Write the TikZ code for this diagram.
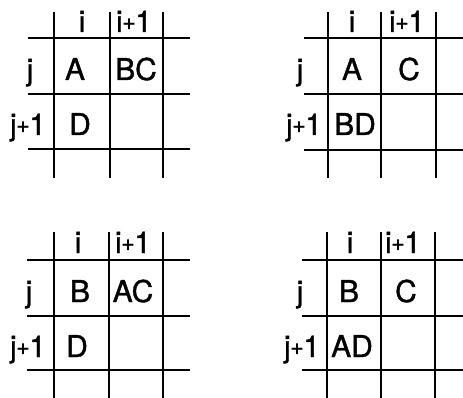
\documentclass[tikz,border=0pt]{standalone}
\usepackage{fontspec}
\setmainfont{TeX Gyre Heros}
\newfontfamily\lblfont{TeX Gyre Heros}[FakeBold=1.2]
\usepackage{tikz}
\newcommand{\pls}{\kern-0.5pt\raisebox{2.5pt}{\fontsize{23}{23}\selectfont+}\kern-0.5pt}

\begin{document}
\begin{tikzpicture}[
  x=1pt, y=-1pt,
  rule/.style={line width=1.5pt, line cap=butt},
  lbl/.style={anchor=base, inner sep=0pt, font=\lblfont\fontsize{30}{32}\selectfont},
]
\useasboundingbox (0,0) rectangle (463,398);

% top left
\draw[rule] (54,12) -- (54,178) (110,12) -- (110,178) (163,12) -- (163,178)
  (28,38) -- (190,38) (28,94) -- (190,94) (28,149) -- (190,149);
\node[lbl] (ai) at (82,32) {i};
\node[lbl] (aii) at (134,32) {i\pls1};
\node[lbl] (aj) at (30,80) {j};
\node[lbl] (ajj) at (28,135) {j\pls1};
\node[lbl] (a11) at (75,80) {A};
\node[lbl] (a12) at (136,80) {BC};
\node[lbl] (a21) at (80,135) {D};

% top right
\draw[rule] (328,12) -- (328,178) (381,12) -- (381,178) (436,12) -- (436,178)
  (304,38) -- (463,38) (304,94) -- (463,94) (304,150) -- (463,150);
\node[lbl] (bi) at (352,32) {i};
\node[lbl] (bii) at (407,32) {i\pls1};
\node[lbl] (bj) at (300,80) {j};
\node[lbl] (bjj) at (304,135) {j\pls1};
\node[lbl] (b11) at (352,80) {A};
\node[lbl] (b12) at (409,80) {C};
\node[lbl] (b21) at (355,135) {BD};

% bottom left
\draw[rule] (54,232) -- (54,398) (109,232) -- (109,398) (163,232) -- (163,398)
  (27,260) -- (190,260) (27,316) -- (190,316) (27,370) -- (190,370);
\node[lbl] (ci) at (78,253) {i};
\node[lbl] (cii) at (133,253) {i\pls1};
\node[lbl] (cj) at (29,302) {j};
\node[lbl] (cjj) at (28,357) {j\pls1};
\node[lbl] (c11) at (80,302) {B};
\node[lbl] (c12) at (133,302) {AC};
\node[lbl] (c21) at (77,357) {D};

% bottom right
\draw[rule] (327,232) -- (327,398) (381,232) -- (381,398) (435,232) -- (435,398)
  (302,260) -- (463,260) (302,316) -- (463,316) (302,370) -- (463,370);
\node[lbl] (di) at (350,253) {i};
\node[lbl] (dii) at (403,253) {i\pls1};
\node[lbl] (dj) at (300,302) {j};
\node[lbl] (djj) at (302,357) {j\pls1};
\node[lbl] (d11) at (349,302) {B};
\node[lbl] (d12) at (406,302) {C};
\node[lbl] (d21) at (352,357) {AD};

\end{tikzpicture}
\end{document}
